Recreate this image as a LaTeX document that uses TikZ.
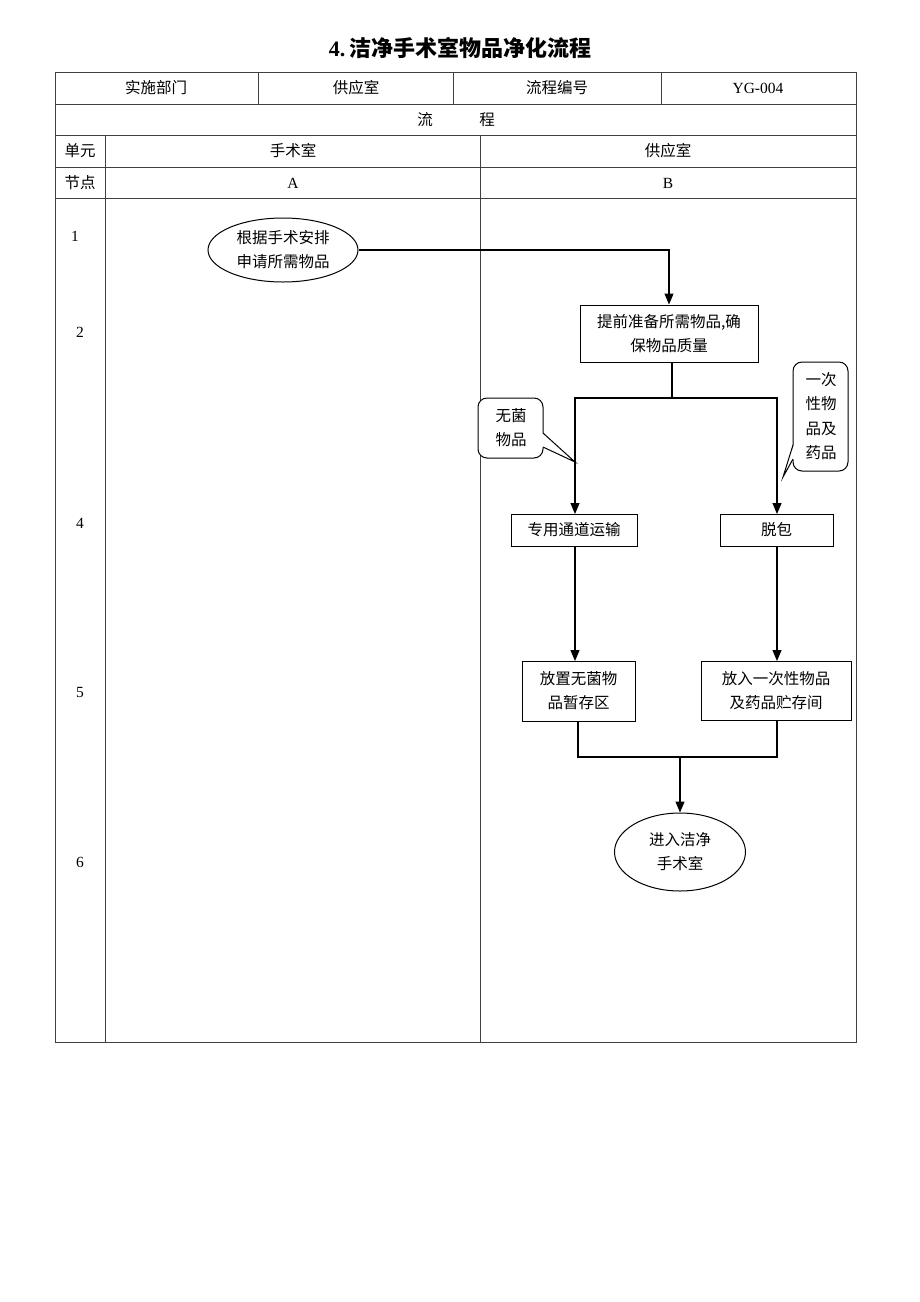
\documentclass[tikz,border=0pt]{standalone}
\usepackage{fontspec}
\setmainfont{Liberation Serif}
\newfontfamily\cjk{Noto Sans CJK SC}
\usetikzlibrary{arrows.meta,shapes.geometric}
\tikzset{
  tline/.style={line width=0.9pt,draw=black!75},
  txt/.style={font=\cjk\fontsize{15.5}{21}\selectfont,inner sep=0pt,align=center},
  num/.style={font=\fontsize{15.5}{18}\selectfont,inner sep=0pt},
  boxn/.style={draw,line width=1pt,font=\cjk\fontsize{15.5}{24}\selectfont,align=center,inner sep=0pt},
  ell/.style={draw,ellipse,line width=1pt,font=\cjk\fontsize{15.5}{24}\selectfont,align=center,inner sep=0pt},
  conn/.style={line width=1.2pt},
  arr/.style={line width=1.2pt,-{Triangle[length=11pt,width=9pt]}},
  callout/.style={draw,line width=1pt,fill=white,rounded corners=9pt},
  pointer/.style={line width=1pt,line join=miter}
}
\begin{document}
\begin{tikzpicture}[x=1pt,y=-1pt]
\useasboundingbox (0,0) rectangle (920,1302);
% title
\node[font=\fontsize{22}{24}\selectfont\bfseries] (title) at (460,48) {4.\,{\cjk 洁净手术室物品净化流程}};
% table
\draw[tline] (55,72) rectangle (856,1042);
\draw[tline] (55,104) -- (856,104);
\draw[tline] (55,135) -- (856,135);
\draw[tline] (55,167) -- (856,167);
\draw[tline] (55,198) -- (856,198);
\draw[tline] (258,72) -- (258,104);
\draw[tline] (453,72) -- (453,104);
\draw[tline] (661,72) -- (661,104);
\draw[tline] (105,135) -- (105,1042);
\draw[tline] (480,135) -- (480,1042);
% header text
\node[txt] (h1) at (156,88) {实施部门};
\node[txt] (h2) at (356,88) {供应室};
\node[txt] (h3) at (557,88) {流程编号};
\node[num] (h4) at (758,88) {YG-004};
\node[txt] (h5) at (456,120) {流\hspace{3em}程};
\node[txt] (u0) at (80,151) {单元};
\node[txt] (u1) at (293,151) {手术室};
\node[txt] (u2) at (668,151) {供应室};
\node[txt] (n0) at (80,183) {节点};
\node[num] (n1) at (293,183) {A};
\node[num] (n2) at (668,183) {B};
% row numbers
\node[num] (r1) at (75,236) {1};
\node[num] (r2) at (80,332) {2};
\node[num] (r4) at (80,523) {4};
\node[num] (r5) at (80,692) {5};
\node[num] (r6) at (80,862) {6};
% nodes
\node[ell,minimum width=150pt,minimum height=64pt] (e1) at (283,250) {根据手术安排\\申请所需物品};
\node[boxn,minimum width=178pt,minimum height=57pt] (b2) at (669,333.5) {提前准备所需物品,确\\保物品质量};
\node[boxn,minimum width=126pt,minimum height=32pt] (b4a) at (574,530) {专用通道运输};
\node[boxn,minimum width=113pt,minimum height=32pt] (b4b) at (776.5,530) {脱包};
\node[boxn,minimum width=113pt,minimum height=60pt] (b5a) at (578.5,691) {放置无菌物\\品暂存区};
\node[boxn,minimum width=150pt,minimum height=59pt] (b5b) at (776,690.5) {放入一次性物品\\及药品贮存间};
\node[ell,minimum width=131pt,minimum height=78pt] (e6) at (680,852) {进入洁净\\手术室};
% connectors
\draw[arr] (e1.east) -| (b2.north);
\coordinate (s1) at (672,398);
\draw[conn] (672,362) -- (s1);
\draw[arr] (s1) -| (575,514);
\draw[arr] (s1) -| (777,514);
\draw[arr] (575,546) -- (575,661);
\draw[arr] (777,546) -- (777,661);
\coordinate (m) at (680,757);
\draw[conn] (578,721) |- (m);
\draw[conn] (777,720) |- (m);
\draw[arr] (m) -- (e6.north);
% callout 1
\draw[callout] (478,398) rectangle (543,458);
\fill[white] (542.2,433) -- (575,462) -- (542.2,447) -- cycle;
\draw[pointer] (543,433) -- (575,462) -- (543,447);
\node[txt,font=\cjk\fontsize{15.5}{24}\selectfont] (c1) at (511,428) {无菌\\物品};
% callout 2
\draw[callout] (793,362) rectangle (848,471);
\fill[white] (793.8,445) -- (783,477) -- (793.8,459) -- cycle;
\draw[pointer] (793,445) -- (783,477) -- (793,459);
\node[txt,font=\cjk\fontsize{15.5}{24.5}\selectfont] (c2) at (821,416) {一次\\性物\\品及\\药品};
\end{tikzpicture}
\end{document}
